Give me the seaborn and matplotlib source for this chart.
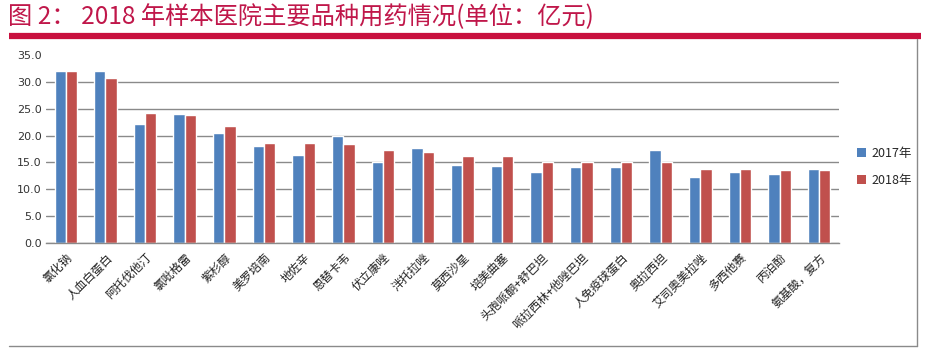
import matplotlib
matplotlib.use("Agg")
import matplotlib.pyplot as plt
import seaborn as sns
import pandas as pd
from matplotlib.patches import Patch
from matplotlib.lines import Line2D

drugs = ["氯化钠", "人血白蛋白", "阿托伐他汀", "氯吡格雷", "紫杉醇", "美罗培南", "地佐辛",
         "恩替卡韦", "伏立康唑", "泮托拉唑", "莫西沙星", "培美曲塞", "头孢哌酮+舒巴坦",
         "哌拉西林+他唑巴坦", "人免疫球蛋白", "奥拉西坦", "艾司奥美拉唑", "多西他赛",
         "丙泊酚", "氨基酸，复方"]
sales_2017 = [32.1, 32.0, 22.1, 24.0, 20.5, 18.0, 16.4, 20.0, 15.1, 17.7,
              14.5, 14.3, 13.2, 14.1, 14.1, 17.3, 12.3, 13.2, 12.8, 13.7]
sales_2018 = [32.1, 30.7, 24.2, 23.8, 21.8, 18.6, 18.6, 18.4, 17.3, 16.9,
              16.2, 16.2, 15.1, 15.1, 15.0, 15.0, 13.7, 13.7, 13.5, 13.5]
years = ["2017年", "2018年"]
yticks = [0, 5, 10, 15, 20, 25, 30, 35]

df = pd.DataFrame({
    "drug": drugs * 2,
    "value": sales_2017 + sales_2018,
    "year": [years[0]] * len(drugs) + [years[1]] * len(drugs),
})

sns.set_style("white")
plt.rcParams["font.family"] = ["Noto Sans CJK SC", "DejaVu Sans"]

colors = ["#4F81BD", "#C0504D"]
fig = plt.figure(figsize=(9.28, 3.54), dpi=100)
ax = fig.add_axes([46 / 928, 1 - 242.7 / 354, (839 - 46) / 928, (242.7 - 55.1) / 354])

sns.barplot(data=df, x="drug", y="value", hue="year", palette=colors, width=0.57,
            gap=0, ax=ax, legend=False, saturation=1)

ax.set_ylim(0, 35)
ax.set_xlim(-0.5, len(drugs) - 0.5)
ax.set_yticks(yticks)
ax.set_yticklabels([f"{v:.1f}" for v in yticks], fontsize=8, color="#333333",
                   family=["DejaVu Sans"])
ax.set_xlabel("")
ax.set_ylabel("")
ax.yaxis.grid(True, color="#8a8a8a", linewidth=1.0)
ax.set_axisbelow(True)
fig.canvas.draw()
ax.yaxis.get_gridlines()[-1].set_visible(False)

for s in ["top", "right", "left"]:
    ax.spines[s].set_visible(False)
ax.spines["bottom"].set_color("#8a8a8a")
ax.spines["bottom"].set_linewidth(1.0)

ax.set_xticks(range(len(drugs)))
ax.set_xticklabels(drugs, rotation=45, ha="right", rotation_mode="anchor",
                   fontsize=8.5, color="#222222")
ax.tick_params(axis="x", which="major", length=0, pad=6)
ax.set_xticks([i - 0.5 for i in range(len(drugs) + 1)], minor=True)
ax.tick_params(axis="x", which="minor", length=4, color="#8a8a8a", direction="out")
ax.tick_params(axis="y", length=0, pad=3)

handles = [Patch(facecolor=c, edgecolor="none") for c in colors]
fig.legend(handles, years, loc="center left", bbox_to_anchor=(846 / 928, 1 - 167 / 354),
           frameon=False, fontsize=9, handlelength=0.7, handleheight=0.7,
           handletextpad=0.4, labelspacing=1.1)

# title and decorations
fig.text(8 / 928, 1 - 17 / 354, "图 2： 2018 年样本医院主要品种用药情况(单位：亿元)",
         fontsize=17.5, color="#C0174A", va="center", ha="left")
fig.add_artist(Line2D([9 / 928, 921 / 928], [1 - 36 / 354, 1 - 36 / 354],
                      color="#C8103E", linewidth=4.5, solid_capstyle="butt",
                      transform=fig.transFigure))
fig.add_artist(Line2D([917 / 928, 917 / 928], [1 - 39 / 354, 1 - 346 / 354],
                      color="#8a8a8a", linewidth=1.0, transform=fig.transFigure))
fig.add_artist(Line2D([9 / 928, 917 / 928], [1 - 346 / 354, 1 - 346 / 354],
                      color="#8a8a8a", linewidth=1.0, transform=fig.transFigure))

fig.savefig("out.png", dpi=100)
